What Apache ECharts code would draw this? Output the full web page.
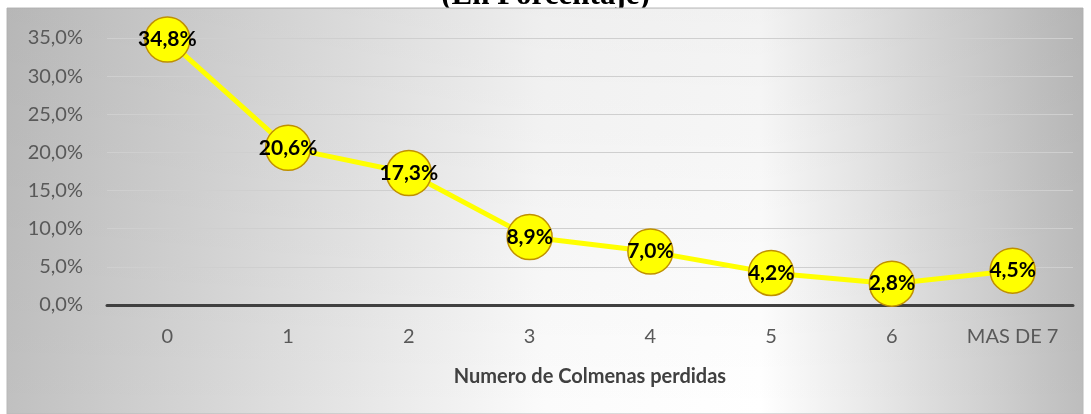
<!DOCTYPE html>
<html>
<head>
<meta charset="utf-8">
<script src="https://cdn.jsdelivr.net/npm/echarts@6/dist/echarts.min.js"></script>
<style>
  html, body { margin: 0; padding: 0; background: #fff; }
  #chart { width: 1091px; height: 414px; }
</style>
</head>
<body>
<div id="chart"></div>
<script>
// datos
var categorias = ['0', '1', '2', '3', '4', '5', '6', 'MAS DE 7'];
var porcentajes = [34.8, 20.6, 17.3, 8.9, 7.0, 4.2, 2.8, 4.5];
var ticksY = [0, 5, 10, 15, 20, 25, 30, 35];

var chart = echarts.init(document.getElementById('chart'));

function fmt(v) {
  return v.toFixed(1).replace('.', ',') + '%';
}

var option = {
  backgroundColor: '#ffffff',
  animation: false,
  graphic: [
    {
      // titulo cortado arriba (queda detras del marco)
      type: 'text',
      left: 'center',
      top: -20,
      z: -20,
      style: {
        text: '(En Porcentaje)',
        font: 'bold 31px "Liberation Serif"',
        fill: '#000'
      }
    },
    {
      // fondo del area del grafico
      type: 'rect',
      z: -10,
      shape: { x: 7, y: 8, width: 1076, height: 406 },
      style: {
        fill: {
          type: 'linear', x: 0, y: 0, x2: 1, y2: 0,
          colorStops: [
            { offset: 0, color: '#c0c0c0' },
            { offset: 0.5, color: '#fbfbfb' },
            { offset: 0.7, color: '#ffffff' },
            { offset: 1, color: '#bdbdbd' }
          ]
        },
        stroke: '#b8b8b8',
        lineWidth: 1
      }
    },
    {
      type: 'rect',
      z: -9,
      shape: { x: 7, y: 8, width: 1076, height: 406 },
      style: {
        fill: {
          type: 'linear', x: 0, y: 0, x2: 0, y2: 1,
          colorStops: [
            { offset: 0, color: 'rgba(0,0,0,0.05)' },
            { offset: 1, color: 'rgba(0,0,0,0)' }
          ]
        }
      }
    }
  ],
  grid: { left: 107, right: 18, top: 38, bottom: 109 },
  xAxis: {
    type: 'category',
    data: categorias,
    boundaryGap: true,
    name: 'Numero de Colmenas perdidas',
    nameLocation: 'middle',
    nameGap: 62,
    nameTextStyle: { fontFamily: 'Lato', fontSize: 20, fontWeight: 'bold', color: '#404040' },
    axisLine: { show: true, lineStyle: { color: '#404040', width: 3 } },
    axisTick: { show: false },
    axisLabel: { fontFamily: 'Lato', fontSize: 20, color: '#595959', margin: 22 }
  },
  yAxis: {
    type: 'value',
    min: ticksY[0],
    max: ticksY[ticksY.length - 1],
    interval: 5,
    axisLine: { show: false },
    axisTick: { show: false },
    splitLine: { lineStyle: { color: '#cfcfcf', width: 1 } },
    axisLabel: {
      fontFamily: 'Lato', fontSize: 20, color: '#595959', margin: 24,
      formatter: function (v) { return fmt(v); }
    }
  },
  series: [{
    type: 'line',
    data: porcentajes,
    symbol: 'circle',
    symbolSize: 45,
    lineStyle: { color: '#ffff00', width: 5 },
    itemStyle: { color: '#ffff00', borderColor: '#bf9000', borderWidth: 1.5 },
    label: {
      show: true,
      position: 'inside',
      fontFamily: 'Lato',
      fontSize: 21,
      fontWeight: 'bold',
      color: '#000',
      formatter: function (p) { return fmt(p.value); }
    },
    z: 5
  }]
};

chart.setOption(option);
</script>
</body>
</html>
